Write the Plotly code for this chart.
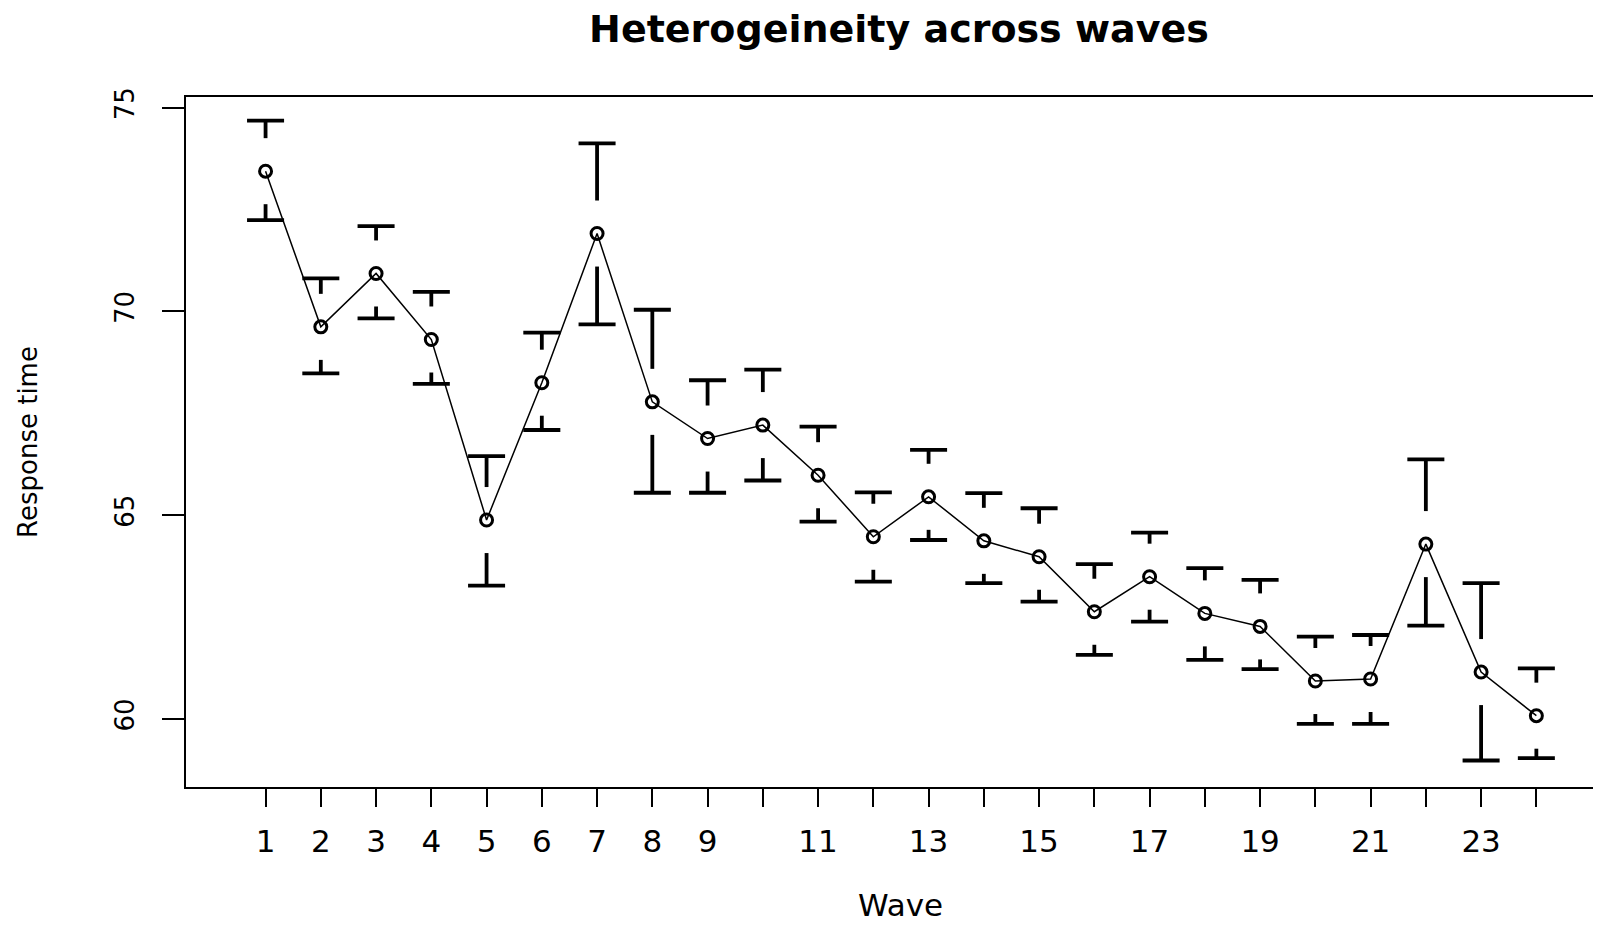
import plotly.graph_objects as go

# ---- data ----
waves = list(range(1, 25))
means = [73.44, 69.62, 70.93, 69.31, 64.88, 68.25, 71.91, 67.78, 66.88, 67.21,
         65.98, 64.47, 65.45, 64.37, 63.98, 62.63, 63.49, 62.59, 62.27, 60.93,
         60.98, 64.29, 61.15, 60.08]
upper = [74.68, 70.81, 72.09, 70.48, 66.45, 69.48, 74.12, 70.04, 68.31, 68.57,
         67.17, 65.56, 66.60, 65.54, 65.17, 63.80, 64.57, 63.70, 63.41, 62.02,
         62.06, 66.37, 63.33, 61.24]
lower = [72.24, 68.48, 69.83, 68.22, 63.27, 67.09, 69.68, 65.55, 65.55, 65.85,
         64.84, 63.37, 64.39, 63.33, 62.88, 61.57, 62.39, 61.45, 61.22, 59.88,
         59.88, 62.29, 58.98, 59.04]
tick_labels = ["1", "2", "3", "4", "5", "6", "7", "8", "9", "", "11", "", "13", "",
               "15", "", "17", "", "19", "", "21", "", "23", ""]
y_ticks = [60, 65, 70, 75]

# ---- style ----
FONT = "DejaVu Sans"
GAP = 0.81      # gap between point and bar, in y units
CAP = 0.335     # half-width of caps, in x units

ex, ey = [], []
for w, m, u, l in zip(waves, means, upper, lower):
    if u - m > GAP:
        ex += [w, w, None]
        ey += [u, m + GAP, None]
    ex += [w - CAP, w + CAP, None]
    ey += [u, u, None]
    if m - l > GAP:
        ex += [w, w, None]
        ey += [l, m - GAP, None]
    ex += [w - CAP, w + CAP, None]
    ey += [l, l, None]

fig = go.Figure()
fig.add_trace(go.Scatter(x=ex, y=ey, mode="lines",
                         line=dict(color="black", width=3.8),
                         hoverinfo="skip", showlegend=False))
fig.add_trace(go.Scatter(x=waves, y=means, mode="lines+markers",
                         line=dict(color="black", width=1.5),
                         marker=dict(symbol="circle-open", size=12, color="black",
                                     line=dict(width=3, color="black")),
                         showlegend=False))

W, H = 1593, 918
fig.update_layout(
    width=W, height=H,
    margin=dict(l=178, r=0, t=89, b=139),
    paper_bgcolor="white", plot_bgcolor="white",
    font=dict(family=FONT, color="black"),
    title=dict(text="<b>Heterogeineity across waves</b>",
               font=dict(family=FONT, size=38, color="black"),
               xref="container", yref="container",
               x=891 / W, xanchor="center",
               y=1 - 21 / H, yanchor="middle"),
    xaxis=dict(range=[-0.44, 25.17], tickmode="array", tickvals=waves,
               ticktext=tick_labels, ticks="outside", ticklen=18, tickwidth=2,
               tickcolor="black", showline=True, linecolor="black", linewidth=2,
               mirror=True, showgrid=False, zeroline=False,
               tickfont=dict(family=FONT, size=31, color="black"),
               ticklabelstandoff=8),
    yaxis=dict(range=[58.33, 75.26], tickmode="array", tickvals=y_ticks,
               ticks="outside", ticklen=22, tickwidth=2, tickcolor="black",
               showline=True, linecolor="black", linewidth=2, mirror=False,
               showgrid=False, zeroline=False, tickangle=-90,
               tickfont=dict(family=FONT, size=26, color="black"),
               ticklabelstandoff=18,
               title=dict(text="Response time", standoff=64,
                          font=dict(family=FONT, size=26, color="black"))),
    annotations=[dict(text="Wave", xref="x", yref="paper", x=12.5, y=-0.171,
                      xanchor="center", yanchor="middle", showarrow=False,
                      font=dict(family=FONT, size=31, color="black"))],
)

fig.write_html("out.html")
